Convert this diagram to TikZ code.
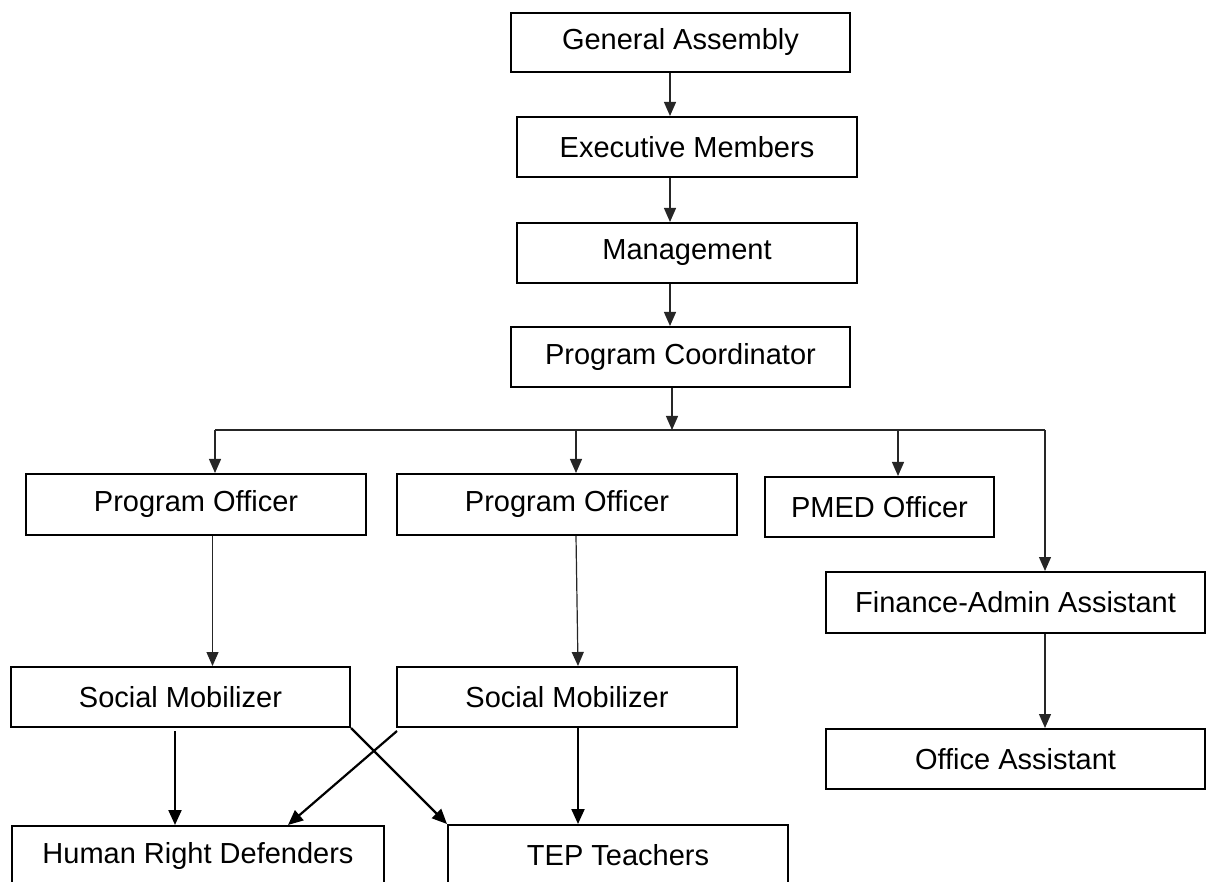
\documentclass[tikz,border=0pt]{standalone}
\usepackage{fontspec}
\setmainfont{Liberation Sans}
\usetikzlibrary{arrows.meta}
\begin{document}
\begin{tikzpicture}[x=0.5pt,y=-0.5pt,
  box/.style={draw, line width=1pt, inner sep=0pt, align=center, font=\fontsize{14.5pt}{17pt}\selectfont},
  thinarrow/.style={draw=black!85, line width=0.6pt, -{Triangle[length=7pt,width=6pt]}},
  thinline/.style={draw=black!85, line width=0.6pt},
  thickarrow/.style={draw=black, line width=1.1pt, -{Triangle[length=7.5pt,width=6.5pt]}}]
\useasboundingbox (0,0) rectangle (1206,882);
% boxes
\node[box, minimum width=169.5pt, minimum height=29.5pt] (ga) at (680.5,42.5) {General Assembly};
\node[box, minimum width=170pt, minimum height=30pt] (em) at (687,147) {Executive Members};
\node[box, minimum width=170pt, minimum height=30pt] (mg) at (687,253) {Management};
\node[box, minimum width=169.5pt, minimum height=30pt] (pc) at (680.5,357) {Program Coordinator};
\node[box, minimum width=170pt, minimum height=30.5pt] (po1) at (196,504.5) {Program Officer};
\node[box, minimum width=170pt, minimum height=30.5pt] (po2) at (567,504.5) {Program Officer};
\node[box, minimum width=114.5pt, minimum height=30pt] (pmed) at (879.5,507) {PMED Officer};
\node[box, minimum width=189.5pt, minimum height=30.5pt] (fa) at (1015.5,602.5) {Finance-Admin Assistant};
\node[box, minimum width=189.5pt, minimum height=30pt] (oa) at (1015.5,759) {Office Assistant};
\node[box, minimum width=169.5pt, minimum height=30pt] (sm1) at (180.5,697) {Social Mobilizer};
\node[box, minimum width=170pt, minimum height=30pt] (sm2) at (567,697) {Social Mobilizer};
\node[box, minimum width=186pt, minimum height=30pt] (hrd) at (198,856) {Human Right Defenders};
\node[box, minimum width=170pt, minimum height=30pt] (tep) at (618,855) {TEP Teachers};
% helper coordinates
\coordinate (c1) at (670,0);
\coordinate (bus) at (672,430);
\coordinate (busL) at (215,430);
\coordinate (busR) at (1045,430);
\coordinate (b2) at (576,430);
\coordinate (b3) at (898,430);
\coordinate (d1) at (212.5,0);
\coordinate (d2) at (578,0);
\coordinate (e1) at (175,731);
\coordinate (e2) at (397,731);
\coordinate (e3) at (288,0);
% top chain
\draw[thinarrow] (ga.south -| c1) -- (em.north -| c1);
\draw[thinarrow] (em.south -| c1) -- (mg.north -| c1);
\draw[thinarrow] (mg.south -| c1) -- (pc.north -| c1);
\draw[thinarrow] (pc.south -| bus) -- (bus);
\draw[thinline] (busL) -- (busR);
\draw[thinarrow] (busL) -- (po1.north -| busL);
\draw[thinarrow] (b2) -- (po2.north -| b2);
\draw[thinarrow] (b3) -- (pmed.north -| b3);
\draw[thinarrow] (busR) -- (fa.north -| busR);
% officers to mobilizers
\draw[thinarrow] (po1.south -| d1) -- (sm1.north -| d1);
\draw[thinarrow] (po2.south -| b2) -- (sm2.north -| d2);
\draw[thinarrow] (fa.south -| busR) -- (oa.north -| busR);
% bottom level
\draw[thickarrow] (e1) -- (hrd.north -| e1);
\draw[thickarrow] (sm2.south -| d2) -- (tep.north -| d2);
\draw[thickarrow] (sm1.south east) -- (tep.north west);
\draw[thickarrow] (e2) -- (hrd.north -| e3);
\end{tikzpicture}
\end{document}
